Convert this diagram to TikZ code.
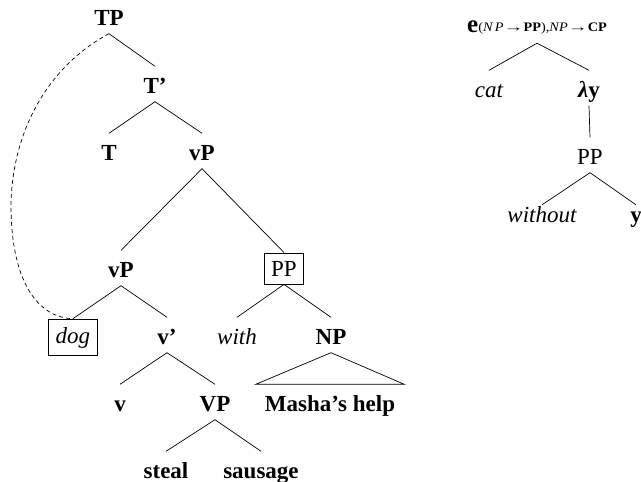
\documentclass[tikz,border=0pt]{standalone}
\usepackage{fontspec}
\setmainfont{Liberation Serif}
\newcommand{\lblsize}{\fontsize{23}{25}\selectfont}
\newcommand{\longarr}{\scalebox{1.4}[1]{→}}
\begin{document}
\begin{tikzpicture}[x=1pt,y=-1pt,
  lbase/.style={text height=18pt,text depth=0pt,inner ysep=8.5pt,inner xsep=2pt,anchor=base},
  lbf/.style={lbase,font=\lblsize\bfseries},
  lit/.style={lbase,font=\lblsize\itshape},
  lrm/.style={lbase,font=\lblsize},
  lbox/.style={draw,line width=0.8pt,inner xsep=7pt,inner ysep=8pt,anchor=base},
  low/.style={text height=15pt,inner ysep=2pt},
  br/.style={line width=0.7pt},
  mv/.style={line width=0.7pt,dash pattern=on 4pt off 3pt}]
\useasboundingbox (0,0) rectangle (641,482);
% left tree
\node[lbf] (TP) at (109,25) {TP};
\node[lbf] (Tb) at (155,93) {T’};
\node[lbf] (T) at (109,160) {T};
\node[lbf] (vP1) at (202,160) {vP};
\node[lbf] (vP2) at (121,277) {vP};
\node[lbox,font=\lblsize] (PP1) at (284,276) {PP};
\node[lbox,font=\lblsize\itshape] (dog) at (73,343) {dog};
\node[lbf] (vb) at (167,344) {v’};
\node[lit] (with) at (237,344) {with};
\node[lbf] (NP) at (331,344) {NP};
\node[lbf] (v) at (120,411) {v};
\node[lbf] (VP) at (215,411) {VP};
\node[lbf,inner xsep=9pt] (Masha) at (330,411) {Masha’s help};
\node[lbf] (steal) at (166,478) {steal};
\node[lbf] (sausage) at (261,478) {sausage};
\draw[br] (TP.south) -- (Tb.north);
\draw[br] (Tb.south) -- (T.north);
\draw[br] (Tb.south) -- (vP1.north);
\draw[br] (vP1.south) -- (vP2.north);
\draw[br] (vP1.south) -- (PP1.north);
\draw[br] (vP2.south) -- (dog.north);
\draw[br] (vP2.south) -- (vb.north);
\draw[br] (PP1.south) -- (with.north);
\draw[br] (PP1.south) -- (NP.north);
\draw[br] (vb.south) -- (v.north);
\draw[br] (vb.south) -- (VP.north);
\draw[br] (VP.south) -- (steal.north);
\draw[br] (VP.south) -- (sausage.north);
\draw[br] (NP.south) -- (Masha.north west) -- (Masha.north east) -- cycle;
\draw[mv] (TP.south) .. controls (45,68) and (12,135) .. (11,205)
  .. controls (11,285) and (40,318) .. (dog.north);
% right tree
\node[lbase,inner ysep=11pt] (e) at (537,32) {\fontsize{25}{25}\selectfont\textbf{e}\raisebox{1pt}{\scalebox{1.1}[1]{\fontsize{13}{13}\selectfont(\textit{N\,P}\longarr\textbf{PP}),\textit{NP}\longarr\textbf{CP}}}};
\node[lit] (cat) at (489,97) {cat};
\node[lbf] (ly) at (589,97) {\textit{λ}y};
\node[lrm] (PP2) at (590,164) {PP};
\node[lit,low] (without) at (542,222) {without};
\node[lbf,low] (y) at (636,222) {y};
\draw[br] (e.south) -- (cat.north);
\draw[br] (e.south) -- (ly.north);
\draw[br] (ly.south) -- (PP2.north);
\draw[br] (PP2.south) -- (without.north);
\draw[br] (PP2.south) -- (y.north);
\end{tikzpicture}
\end{document}
